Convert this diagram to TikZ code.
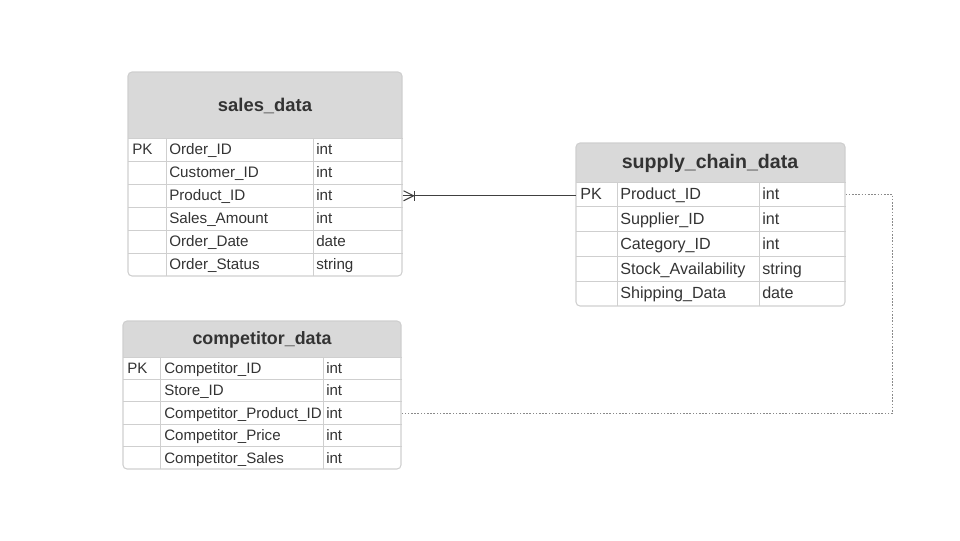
\documentclass[tikz,border=0pt]{standalone}
\usepackage{fontspec}
\setmainfont{Liberation Sans}
\usetikzlibrary{positioning}

\definecolor{hdgray}{HTML}{D9D9D9}
\definecolor{lngray}{HTML}{CFCFCF}
\definecolor{txtgray}{HTML}{333333}
\definecolor{fkgray}{HTML}{8A8A8A}

\tikzset{
  rowbox/.style 2 args={minimum width=#1*0.75pt, minimum height=#2*0.75pt,
    anchor=north west, inner sep=0pt, draw=none},
  tblframe/.style={draw=lngray, line width=0.8pt, rounded corners=3pt},
  rowline/.style={draw=lngray, line width=0.6pt},
  hdtext/.style={font=\bfseries\fontsize{#1}{#1}\selectfont, text=txtgray, inner sep=0pt,
    text height=0.72em, text depth=0pt, yshift=-0.6pt},
  fieldtext/.style={font=\fontsize{#1}{#1}\selectfont, text=txtgray, anchor=west, inner sep=0pt,
    text height=0.72em, text depth=0pt, yshift=-0.3pt},
  relline/.style={draw=black!75, line width=0.8pt},
  fkline/.style={draw=fkgray, line width=0.6pt, dash pattern=on 1.2pt off 1.2pt},
}

\begin{document}
\begin{tikzpicture}[x=0.75pt, y=-0.75pt]
  \useasboundingbox (0,0) rectangle (960,540);

  % sales_data
  \fill[hdgray] (128,138) [rounded corners=3pt] -- (128,72) -- (402,72) [sharp corners] -- (402,138) -- cycle;
  \node[hdtext=13.8] (sdhead) at (265,106) {sales\_data};
  \foreach \pk/\fld/\typ [count=\i] in {PK/Order\_ID/int, /Customer\_ID/int, /Product\_ID/int,
      /Sales\_Amount/int, /Order\_Date/date, /Order\_Status/string} {
    \node[rowbox={274}{23}] (sdrow\i) at (128,{138+(\i-1)*23}) {};
    \draw[rowline] (sdrow\i.north west) -- (sdrow\i.north east);
    \node[fieldtext=11.4] (sdpk\i) at (132,{138+(\i-0.5)*23}) {\pk};
    \node[fieldtext=11.4] (sdfld\i) at (169,{138+(\i-0.5)*23}) {\fld};
    \node[fieldtext=11.4] (sdtyp\i) at (316,{138+(\i-0.5)*23}) {\typ};
  }
  \draw[rowline] (166,138) -- (166,276);
  \draw[rowline] (313,138) -- (313,276);
  \draw[tblframe] (128,72) rectangle (402,276);

  % supply_chain_data
  \fill[hdgray] (576,182) [rounded corners=3pt] -- (576,143) -- (845,143) [sharp corners] -- (845,182) -- cycle;
  \node[hdtext=14.7] (schead) at (710,163) {supply\_chain\_data};
  \foreach \pk/\fld/\typ [count=\i] in {PK/Product\_ID/int, /Supplier\_ID/int, /Category\_ID/int,
      /Stock\_Availability/string, /Shipping\_Data/date} {
    \node[rowbox={269}{24.8}] (scrow\i) at (576,{182+(\i-1)*24.8}) {};
    \draw[rowline] (scrow\i.north west) -- (scrow\i.north east);
    \node[fieldtext=12.1] (scpk\i) at (580,{182+(\i-0.5)*24.8}) {\pk};
    \node[fieldtext=12.1] (scfld\i) at (620,{182+(\i-0.5)*24.8}) {\fld};
    \node[fieldtext=12.1] (sctyp\i) at (762,{182+(\i-0.5)*24.8}) {\typ};
  }
  \draw[rowline] (617,182) -- (617,306);
  \draw[rowline] (759,182) -- (759,306);
  \draw[tblframe] (576,143) rectangle (845,306);

  % competitor_data
  \fill[hdgray] (123,357) [rounded corners=3pt] -- (123,321) -- (401,321) [sharp corners] -- (401,357) -- cycle;
  \node[hdtext=13.4] (cdhead) at (262,339) {competitor\_data};
  \foreach \pk/\fld/\typ [count=\i] in {PK/Competitor\_ID/int, /Store\_ID/int, /Competitor\_Product\_ID/int,
      /Competitor\_Price/int, /Competitor\_Sales/int} {
    \node[rowbox={278}{22.4}] (cdrow\i) at (123,{357+(\i-1)*22.4}) {};
    \draw[rowline] (cdrow\i.north west) -- (cdrow\i.north east);
    \node[fieldtext=11.3] (cdpk\i) at (127,{357+(\i-0.5)*22.4}) {\pk};
    \node[fieldtext=11.3] (cdfld\i) at (164,{357+(\i-0.5)*22.4}) {\fld};
    \node[fieldtext=11.3] (cdtyp\i) at (326,{357+(\i-0.5)*22.4}) {\typ};
  }
  \draw[rowline] (160,357) -- (160,469);
  \draw[rowline] (323,357) -- (323,469);
  \draw[tblframe] (123,321) rectangle (401,469);

  % relations
  \draw[relline] (sdrow3.east) -- (sdrow3.east -| scrow1.west);
  \draw[relline] (sdrow3.east) ++(1,-5) -- ++(10,5) -- ++(-10,5);
  \draw[relline] (sdrow3.east) ++(12,-5) -- ++(0,10);
  \draw[fkline] (scrow1.east) -- ++(47,0) |- (cdrow3.east);
\end{tikzpicture}
\end{document}
